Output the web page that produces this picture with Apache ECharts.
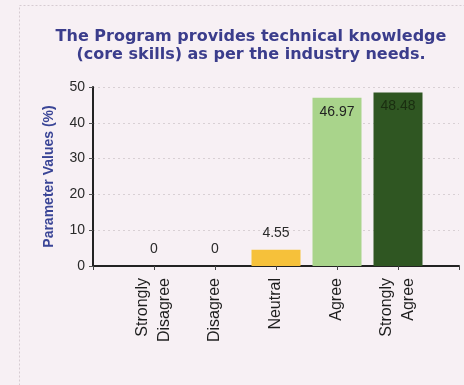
<!DOCTYPE html>
<html>
<head>
<meta charset="utf-8">
<script src="https://cdn.jsdelivr.net/npm/echarts@6/dist/echarts.min.js"></script>
<style>
  html, body { margin: 0; padding: 0; background: #f7f0f4; }
  #chart { width: 464px; height: 385px; }
</style>
</head>
<body>
<div id="chart"></div>
<script>
// Survey responses: share of respondents per answer
const categories = ['Strongly\nDisagree', 'Disagree', 'Neutral', 'Agree', 'Strongly\nAgree'];
const values = [0, 0, 4.55, 46.97, 48.48];
const barColors = ['#f5c242', '#f5c242', '#f6c13a', '#a9d48b', '#2f5622'];
const yTicks = [0, 10, 20, 30, 40, 50];

const chart = echarts.init(document.getElementById('chart'), null, { renderer: 'canvas' });

// Bars sit at positions 1..5 on a 0..6 axis, leaving a gap on both ends
const barData = values.map((v, i) => {
  const item = { value: [i + 1, v], itemStyle: { color: barColors[i] } };
  if (v > 20) {
    item.label = { position: 'insideTop', distance: 7, color: i === 4 ? '#1a2e10' : '#222' };
  }
  return item;
});

chart.setOption({
  backgroundColor: '#f7f0f4',
  animation: false,
  title: {
    text: 'The Program provides technical knowledge\n(core skills) as per the industry needs.',
    left: 246,
    top: 23,
    textAlign: 'center',
    textStyle: {
      fontFamily: 'DejaVu Sans',
      fontWeight: 'bold',
      fontSize: 16,
      lineHeight: 18,
      color: '#3b3d8c'
    }
  },
  graphic: [{
    type: 'rect',
    shape: { x: 19.5, y: 5.5, width: 460, height: 420 },
    style: { fill: 'none', stroke: '#d6ccd2', lineWidth: 1, lineDash: [2, 2] },
    silent: true,
    z: -1
  }],
  grid: { left: 93, right: 5, top: 87, bottom: 119, containLabel: false },
  xAxis: {
    type: 'value',
    min: 0,
    max: 6,
    interval: 1,
    splitLine: { show: false },
    axisLine: { show: true, lineStyle: { color: '#222', width: 2 } },
    axisTick: { show: true, length: 4, lineStyle: { color: '#444' } },
    axisLabel: {
      rotate: 90,
      margin: 12,
      fontFamily: 'Liberation Sans',
      fontSize: 16,
      lineHeight: 22,
      color: '#1e1e1e',
      formatter: v => (v >= 1 && v <= categories.length ? categories[v - 1] : '')
    }
  },
  yAxis: {
    type: 'value',
    min: yTicks[0],
    max: yTicks[yTicks.length - 1],
    interval: 10,
    name: 'Parameter Values (%)',
    nameLocation: 'middle',
    nameGap: 37,
    nameRotate: 90,
    nameTextStyle: {
      fontFamily: 'Liberation Sans',
      fontWeight: 'bold',
      fontSize: 14,
      color: '#3a4596'
    },
    axisLine: { show: true, lineStyle: { color: '#222', width: 2 } },
    axisTick: { show: true, length: 4, lineStyle: { color: '#555' } },
    axisLabel: {
      margin: 8,
      fontFamily: 'Liberation Sans',
      fontSize: 14,
      color: '#2a2a2a'
    },
    splitLine: { show: true, lineStyle: { color: '#d8d0d4', type: [2, 3], width: 1 } }
  },
  series: [{
    type: 'bar',
    barWidth: 49,
    data: barData,
    label: {
      show: true,
      position: 'top',
      distance: 10,
      fontFamily: 'Liberation Sans',
      fontSize: 14,
      color: '#2a2a2a',
      formatter: p => String(p.value[1])
    }
  }]
});
</script>
</body>
</html>
